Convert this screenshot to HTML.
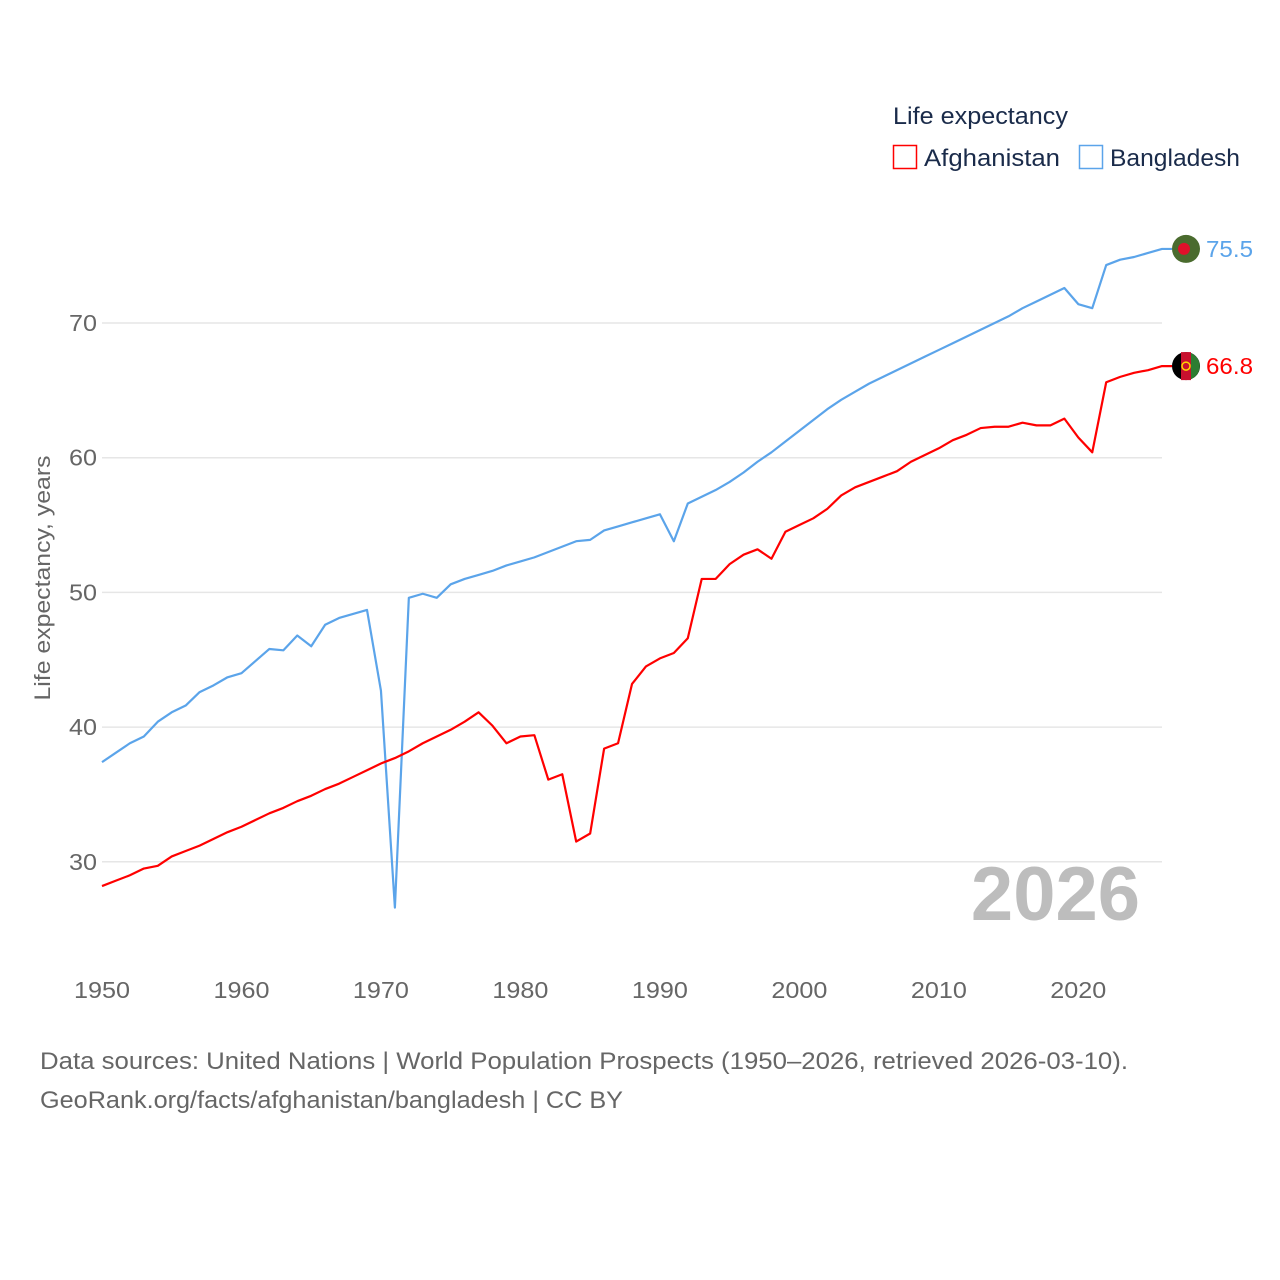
<!DOCTYPE html>
<html><head><meta charset="utf-8"><style>
body{margin:0;background:#fff;}
svg{display:block;font-family:"Liberation Sans",sans-serif;}
</style></head><body>
<svg width="1280" height="1280">
<g id="grid"></g>
<g id="yt"></g>
<g id="xt"></g>
<text transform="translate(50,578) rotate(-90)" text-anchor="middle" font-size="22" fill="#666" textLength="245" lengthAdjust="spacingAndGlyphs">Life expectancy, years</text>
<text x="1140" y="920" text-anchor="end" font-size="76" font-weight="bold" fill="#bdbdbd">2026</text>
<g id="series"></g>
<text x="893" y="124" font-size="24" fill="#1a2b4a" textLength="175" lengthAdjust="spacingAndGlyphs">Life expectancy</text>
<rect x="893.5" y="145.5" width="23" height="23" fill="none" stroke="#ff0000" stroke-width="1.5"/>
<text x="924" y="166" font-size="24" fill="#1a2b4a" textLength="136" lengthAdjust="spacingAndGlyphs">Afghanistan</text>
<rect x="1079.5" y="145.5" width="23" height="23" fill="none" stroke="#5ba4ea" stroke-width="1.5"/>
<text x="1110" y="166" font-size="24" fill="#1a2b4a" textLength="130" lengthAdjust="spacingAndGlyphs">Bangladesh</text>
<text x="40" y="1069" font-size="24" fill="#666" textLength="1088" lengthAdjust="spacingAndGlyphs">Data sources: United Nations | World Population Prospects (1950–2026, retrieved 2026-03-10).</text>
<text x="40" y="1108" font-size="24" fill="#666" textLength="583" lengthAdjust="spacingAndGlyphs">GeoRank.org/facts/afghanistan/bangladesh | CC BY</text>
</svg>
<script>
const years=[];for(let y=1950;y<=2026;y++)years.push(y);
const afghanistan=[28.2,28.6,29.0,29.5,29.7,30.4,30.8,31.2,31.7,32.2,32.6,33.1,33.6,34.0,34.5,34.9,35.4,35.8,36.3,36.8,37.3,37.7,38.2,38.8,39.3,39.8,40.4,41.1,40.1,38.8,39.3,39.4,36.1,36.5,31.5,32.1,38.4,38.8,43.2,44.5,45.1,45.5,46.6,51.0,51.0,52.1,52.8,53.2,52.5,54.5,55.0,55.5,56.2,57.2,57.8,58.2,58.6,59.0,59.7,60.2,60.7,61.3,61.7,62.2,62.3,62.3,62.6,62.4,62.4,62.9,61.5,60.4,65.6,66.0,66.3,66.5,66.8];
const bangladesh=[37.4,38.1,38.8,39.3,40.4,41.1,41.6,42.6,43.1,43.7,44.0,44.9,45.8,45.7,46.8,46.0,47.6,48.1,48.4,48.7,42.7,26.6,49.6,49.9,49.6,50.6,51.0,51.3,51.6,52.0,52.3,52.6,53.0,53.4,53.8,53.9,54.6,54.9,55.2,55.5,55.8,53.8,56.6,57.1,57.6,58.2,58.9,59.7,60.4,61.2,62.0,62.8,63.6,64.3,64.9,65.5,66.0,66.5,67.0,67.5,68.0,68.5,69.0,69.5,70.0,70.5,71.1,71.6,72.1,72.6,71.4,71.1,74.3,74.7,74.9,75.2,75.5];
const yTicks=[30,40,50,60,70];
const xTicks=[1950,1960,1970,1980,1990,2000,2010,2020];
const NS='http://www.w3.org/2000/svg';
const X=v=>102+(v-1950)*(1162-102)/76;
const Y=v=>323-(v-70)*13.47;
function mk(t,a,p){const e=document.createElementNS(NS,t);for(const k in a)e.setAttribute(k,a[k]);p.appendChild(e);return e;}
const grid=document.getElementById('grid'),yt=document.getElementById('yt'),xt=document.getElementById('xt'),ser=document.getElementById('series');
yTicks.forEach(v=>{
 const l=mk('line',{x1:102,x2:1162,y1:Y(v),y2:Y(v),stroke:'#e6e6e6','stroke-width':1.5},grid);
 
 
 const t=mk('text',{x:97,y:Y(v)+8,'text-anchor':'end','font-size':23,fill:'#666',textLength:28,lengthAdjust:'spacingAndGlyphs'},yt);t.textContent=v;
 
 
});
xTicks.forEach(v=>{
 const t=mk('text',{x:X(v)-28,y:998,'font-size':23,fill:'#666',textLength:56,lengthAdjust:'spacingAndGlyphs'},xt);t.textContent=v;
 
 
});
function line(data,color,name){
 const p=mk('polyline',{points:data.map((v,i)=>X(years[i])+','+Y(v)).join(' ')+' '+(X(2026)+10)+','+Y(data[data.length-1]),fill:'none',stroke:color,'stroke-width':2.2,'stroke-linejoin':'round'},ser);
 
 
}
line(bangladesh,'#5ba4ea','bangladesh-line');
line(afghanistan,'#ff0000','afghanistan-line');
const lb=bangladesh[bangladesh.length-1],la=afghanistan[afghanistan.length-1];
const fb=mk('g',{},ser);


mk('circle',{cx:1186,cy:Y(lb),r:14,fill:'#4a6b2e'},fb);
mk('circle',{cx:1184,cy:Y(lb),r:6,fill:'#e0102a'},fb);
const fa=mk('g',{},ser);


mk('circle',{cx:1186,cy:Y(la),r:14,fill:'#000'},fa);
mk('rect',{x:1181,y:Y(la)-14,width:10,height:28,fill:'#c8102e'},fa);
mk('path',{d:`M1191 ${Y(la)-13} A14 14 0 0 1 1191 ${Y(la)+13} Z`,fill:'#2e7d32'},fa);
mk('circle',{cx:1186,cy:Y(la),r:4,fill:'none',stroke:'#ffd700','stroke-width':1.5},fa);
const tb=mk('text',{x:1206,y:Y(lb)+8,'font-size':23,fill:'#5ba4ea',textLength:47,lengthAdjust:'spacingAndGlyphs'},ser);tb.textContent=lb.toFixed(1);


const ta=mk('text',{x:1206,y:Y(la)+8,'font-size':23,fill:'#ff0000',textLength:47,lengthAdjust:'spacingAndGlyphs'},ser);ta.textContent=la.toFixed(1);


</script>
</body></html>
